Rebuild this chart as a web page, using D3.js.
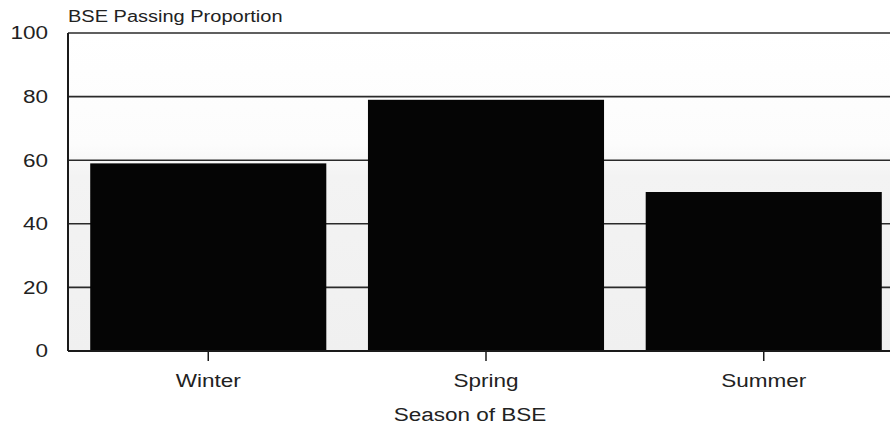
<!DOCTYPE html>
<meta charset="utf-8">
<script src="https://d3js.org/d3.v7.min.js"></script>
<style>
  body { margin: 0; background: #fff; }
  text { font-family: "Liberation Sans", Arial, sans-serif; fill: #222; }
</style>
<div id="chart"></div>
<script>

// data
var seasons = ["Winter", "Spring", "Summer"];
var passing = [59, 79, 50];
var yTicks = [0, 20, 40, 60, 80, 100];

var W = 890, H = 428;
var margin = {top: 33, left: 68, bottom: 77};
var stretch = 1.25; // the scanned lettering is wide

var svg = d3.select("#chart")
  .append("svg")
    .attr("width", W)
    .attr("height", H);

var x = d3.scaleBand()
  .domain(seasons)
  .range([margin.left, 904])
  .paddingInner(0.15)
  .paddingOuter(0.08);

var y = d3.scaleLinear()
  .domain([0, 100])
  .range([H - margin.bottom, margin.top]);

// slightly grey plot background like the scan
var grad = svg.append("defs").append("linearGradient")
  .attr("id", "bg").attr("x1", 0).attr("x2", 0).attr("y1", 0).attr("y2", 1);
grad.append("stop").attr("offset", "0%").attr("stop-color", "#ffffff");
grad.append("stop").attr("offset", "35%").attr("stop-color", "#fcfcfc");
grad.append("stop").attr("offset", "45%").attr("stop-color", "#f3f3f3");
grad.append("stop").attr("offset", "100%").attr("stop-color", "#f0f0f0");

svg.append("rect")
  .attr("x", margin.left).attr("y", y(100))
  .attr("width", W - margin.left).attr("height", y(0) - y(100))
  .attr("fill", "url(#bg)");

// gridlines
svg.append("g")
  .selectAll("line")
  .data(yTicks)
  .enter().append("line")
    .attr("x1", margin.left).attr("x2", W)
    .attr("y1", function(d) { return y(d) })
    .attr("y2", function(d) { return y(d) })
    .attr("stroke", "#2a2a2a")
    .attr("stroke-width", 1.6);

// y labels
svg.append("g")
  .selectAll("text")
  .data(yTicks)
  .enter().append("text")
    .attr("transform", function(d) { return "translate(48," + y(d) + ") scale(" + stretch + ",1)" })
    .attr("dy", "0.36em")
    .attr("text-anchor", "end")
    .style("font-size", "18px")
    .text(function(d) { return d });

// bars
svg.append("g")
  .selectAll("rect")
  .data(passing)
  .enter().append("rect")
    .attr("x", function(d, i) { return x(seasons[i]) })
    .attr("y", function(d) { return y(d) })
    .attr("width", x.bandwidth())
    .attr("height", function(d) { return y(0) - y(d) })
    .attr("fill", "#050505");

// y axis line
svg.append("line")
  .attr("x1", margin.left).attr("x2", margin.left)
  .attr("y1", y(100)).attr("y2", y(0))
  .attr("stroke", "#1a1a1a")
  .attr("stroke-width", 2);

// x axis baseline + ticks
svg.append("line")
  .attr("x1", margin.left).attr("x2", W)
  .attr("y1", y(0)).attr("y2", y(0))
  .attr("stroke", "#1a1a1a")
  .attr("stroke-width", 2);

var xt = svg.append("g")
  .selectAll("g")
  .data(seasons)
  .enter().append("g")
    .attr("transform", function(d) { return "translate(" + (x(d) + x.bandwidth() / 2) + "," + y(0) + ")" });
xt.append("line").attr("y1", 0).attr("y2", 10).attr("stroke", "#1a1a1a").attr("stroke-width", 1.5);
xt.append("text")
  .attr("transform", "translate(0,36) scale(" + stretch + ",1)")
  .attr("text-anchor", "middle")
  .style("font-size", "18px")
  .text(function(d) { return d });

// titles
svg.append("text")
  .attr("transform", "translate(68,22) scale(" + stretch + ",1)")
  .style("font-size", "16px")
  .text("BSE Passing Proportion");

svg.append("text")
  .attr("transform", "translate(470,421) scale(" + stretch + ",1)")
  .attr("text-anchor", "middle")
  .style("font-size", "18px")
  .text("Season of BSE");

</script>
